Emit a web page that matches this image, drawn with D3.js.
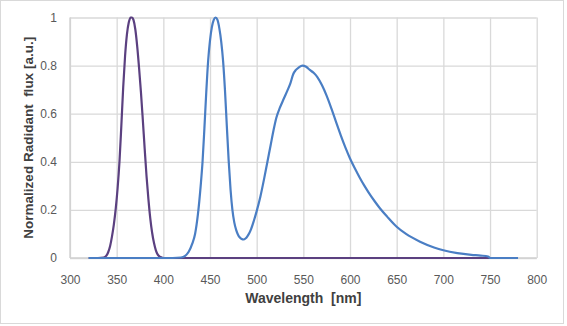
<!DOCTYPE html>
<html>
<head>
<meta charset="utf-8">
<script src="https://cdn.jsdelivr.net/npm/d3@7"></script>
<style>
  html, body { margin: 0; padding: 0; background: #fff; }
  svg { display: block; }
</style>
</head>
<body>
<svg id="chart" width="567" height="326"></svg>
<script>
// ---- data ----
const xTicks = [300, 350, 400, 450, 500, 550, 600, 650, 700, 750, 800];
const yTicks = [0, 0.2, 0.4, 0.6, 0.8, 1];

const purpleWl  = [320, 330, 336, 339, 341, 343, 345, 347, 349, 351, 353, 355, 357, 359, 361, 363, 365, 366.5, 368, 370, 372, 374, 376, 378, 380, 382, 384, 386, 388, 390, 392, 394, 397, 401, 420, 500, 600, 700, 750];
const purpleVal = [0, 0, 0.002, 0.01, 0.025, 0.05, 0.09, 0.14, 0.205, 0.29, 0.4, 0.55, 0.71, 0.84, 0.93, 0.98, 1.0, 1.0, 0.99, 0.95, 0.88, 0.79, 0.69, 0.575, 0.455, 0.34, 0.245, 0.165, 0.105, 0.062, 0.032, 0.014, 0.004, 0, 0, 0, 0, 0, 0];

const blueWl  = [320, 410, 419, 423, 427, 431, 434, 437, 440, 442, 444, 446, 448, 450, 452, 454, 456, 458, 460, 462, 464, 466, 468, 470, 472, 474, 476, 478, 480, 482, 484, 486, 488, 490, 492, 494, 497, 500, 504, 508, 511, 515, 518, 521, 525, 529, 533, 536, 539, 542, 545, 549, 553, 557, 561, 565, 570, 575, 580, 585, 590, 595, 600, 605, 610, 615, 620, 626, 632, 640, 650, 660, 675, 690, 700, 715, 730, 740, 748, 750, 780];
const blueVal = [0, 0, 0.002, 0.008, 0.025, 0.06, 0.1, 0.18, 0.3, 0.4, 0.54, 0.69, 0.82, 0.905, 0.96, 0.99, 1.0, 0.99, 0.955, 0.9, 0.82, 0.7, 0.55, 0.405, 0.285, 0.2, 0.148, 0.117, 0.097, 0.085, 0.079, 0.077, 0.081, 0.09, 0.103, 0.12, 0.155, 0.195, 0.256, 0.33, 0.39, 0.47, 0.53, 0.582, 0.626, 0.662, 0.697, 0.725, 0.763, 0.782, 0.792, 0.8, 0.795, 0.782, 0.77, 0.752, 0.718, 0.674, 0.622, 0.566, 0.511, 0.46, 0.414, 0.374, 0.337, 0.303, 0.272, 0.238, 0.207, 0.171, 0.13, 0.1, 0.068, 0.044, 0.032, 0.02, 0.013, 0.01, 0.006, 0, 0];

// ---- chart ----
const svg = d3.select("#chart");
const mLeft = 70, mRight = 536.7, mTop = 17.5, mBottom = 258;

svg.append("rect").attr("x", 0.5).attr("y", 0.5).attr("width", 563).attr("height", 323)
  .attr("fill", "#fff").attr("stroke", "#d9d9d9").attr("stroke-width", 1);

const x = d3.scaleLinear().domain([300, 800]).range([mLeft, mRight]);
const y = d3.scaleLinear().domain([0, 1]).range([mBottom, mTop]);

// gridlines
const gx = svg.append("g").attr("transform", `translate(0,${mBottom})`)
  .call(d3.axisBottom(x).tickValues(xTicks).tickSize(-(mBottom - mTop)).tickFormat(""));
gx.select(".domain").remove();
gx.selectAll("line").attr("stroke", "#d9d9d9").attr("stroke-width", 1.3);

const gy = svg.append("g").attr("transform", `translate(${mLeft},0)`)
  .call(d3.axisLeft(y).tickValues(yTicks).tickSize(-(mRight - mLeft)).tickFormat(""));
gy.select(".domain").remove();
gy.selectAll("line").attr("stroke", "#d9d9d9").attr("stroke-width", 1.3);

// axis lines
svg.append("line").attr("x1", mLeft).attr("x2", mLeft).attr("y1", mTop).attr("y2", mBottom)
  .attr("stroke", "#d0d0d0").attr("stroke-width", 1.3);
svg.append("line").attr("x1", mLeft).attr("x2", mRight).attr("y1", mBottom).attr("y2", mBottom)
  .attr("stroke", "#d0d0d0").attr("stroke-width", 1.3);

// tick labels
const xl = svg.append("g").attr("transform", `translate(0,${mBottom})`)
  .call(d3.axisBottom(x).tickValues(xTicks).tickSize(0).tickPadding(17).tickFormat(d3.format("d")));
xl.select(".domain").remove();
xl.selectAll("text").attr("font-family", "Liberation Sans, Arial, sans-serif")
  .attr("font-size", 12).attr("fill", "#595959");

const yl = svg.append("g").attr("transform", `translate(${mLeft},0)`)
  .call(d3.axisLeft(y).tickValues(yTicks).tickSize(0).tickPadding(13).tickFormat(d => d3.format("")(d)));
yl.select(".domain").remove();
yl.selectAll("text").attr("font-family", "Liberation Sans, Arial, sans-serif")
  .attr("font-size", 12).attr("fill", "#595959");

// lines
const line = d3.line().x(d => x(d[0])).y(d => y(d[1])).curve(d3.curveMonotoneX);
const purple = purpleWl.map((w, i) => [w, purpleVal[i]]);
const blue = blueWl.map((w, i) => [w, blueVal[i]]);

svg.append("path").datum(purple).attr("d", line).attr("fill", "none")
  .attr("stroke", "#5b4080").attr("stroke-width", 2.2).attr("stroke-linejoin", "round");
svg.append("path").datum(blue).attr("d", line).attr("fill", "none")
  .attr("stroke", "#4a7ec4").attr("stroke-width", 2.2).attr("stroke-linejoin", "round");

// titles
svg.append("text").attr("x", (mLeft + mRight) / 2).attr("y", 303).attr("text-anchor", "middle")
  .attr("font-family", "Liberation Sans, Arial, sans-serif").attr("font-size", 14)
  .attr("font-weight", "bold").attr("fill", "#404040").attr("xml:space", "preserve")
  .text("Wavelength  [nm]");

svg.append("text").attr("transform", `translate(33,${(mTop + mBottom) / 2}) rotate(-90)`)
  .attr("text-anchor", "middle")
  .attr("font-family", "Liberation Sans, Arial, sans-serif").attr("font-size", 13.5)
  .attr("font-weight", "bold").attr("fill", "#404040").attr("xml:space", "preserve")
  .text("Normalized Radidant  flux [a.u.]");
</script>
</body>
</html>
